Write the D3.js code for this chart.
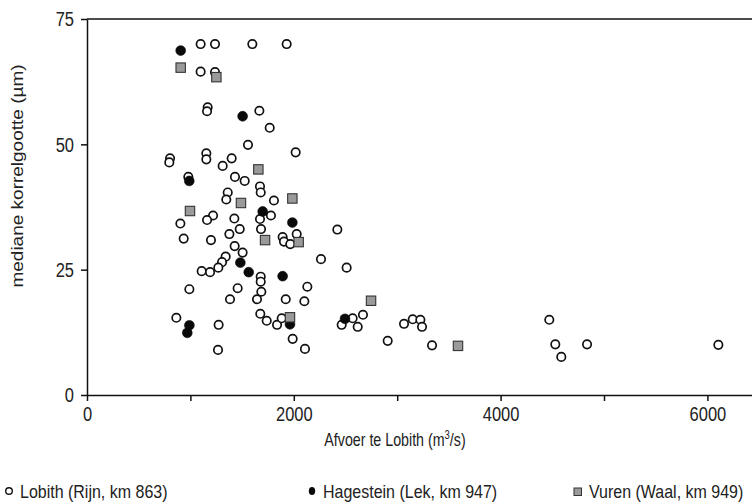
<!DOCTYPE html>
<html><head><meta charset="utf-8">
<script src="https://cdn.jsdelivr.net/npm/d3@7"></script>
<style>
html,body{margin:0;padding:0;background:#fff;}
svg{display:block;}
text{font-family:"Liberation Sans",Arial,sans-serif;fill:#222;}
</style></head>
<body><svg id="c" width="752" height="504"></svg>
<script>
// Lobith (Rijn, km 863): [afvoer m3/s, mediane korrelgrootte µm]
const lobith = [
[1099,70],[1238,70],[1599,70],[1931,70],
[1099,64.5],[1238,64.4],
[1167,57.4],[1161,56.6],
[1667,56.7],[1767,53.3],[1557,49.9],[2018,48.4],
[803,47.2],[796,46.4],[1154,48.2],[1154,47.0],[1399,47.2],[1312,45.7],
[980,43.5],[1431,43.5],[1525,42.7],[1673,41.6],[1680,40.4],[1361,40.4],[1347,39.0],[1808,38.8],
[1219,35.8],[1161,34.9],[903,34.2],[1425,35.2],[1477,33.1],[1377,32.1],[1779,35.8],[1673,35.1],[1683,33.1],
[1892,31.5],[2028,32.1],[1905,30.6],[1966,30.1],[2421,33.0],[935,31.2],[1199,30.9],[1428,29.7],[1505,28.4],
[1341,27.6],[1306,26.5],[1270,25.4],[1109,24.7],[1190,24.5],[1680,23.6],[1680,22.6],[2263,27.1],[2511,25.4],
[990,21.1],[1457,21.3],[1686,20.6],[1383,19.1],[1644,19.1],[1922,19.1],[2131,21.6],[2102,18.7],
[864,15.4],[1273,14.0],[1676,16.2],[1738,14.8],[1838,14.0],[1883,15.3],[1989,11.2],[2108,9.2],[1267,9.0],[2463,14.0],
[2569,15.3],[2618,13.6],[2669,16.0],[2908,10.8],[3066,14.2],[3150,15.1],[3224,15.0],[3240,13.6],[3337,9.9],
[4471,15.0],[4529,10.1],[4587,7.6],[4836,10.1],[6106,10.0]
];
// Hagestein (Lek, km 947)
const hagestein = [
[906,68.7],[1505,55.6],[989,42.7],[1699,36.6],[1986,34.4],[1483,26.4],[1564,24.5],
[1892,23.7],[990,13.9],[970,12.4],[1963,14.1],[2495,15.2]
];
// Vuren (Waal, km 949)
const vuren = [
[906,65.3],[1251,63.4],[1657,45.0],[1489,38.3],[1986,39.2],[996,36.7],[1722,30.9],
[2047,30.5],[1963,15.5],[2747,18.8],[3588,9.8]
];
const xTicks = [0,1000,2000,3000,4000,5000,6000];
const xLabels = [0,2000,4000,6000];
const yTicks = [0,25,50,75];
const seriesNames = ["Lobith (Rijn, km 863)","Hagestein (Lek, km 947)","Vuren (Waal, km 949)"];
const xTitle = "Afvoer te Lobith (m";
const yTitle = "mediane korrelgootte (µm)";

const svg = d3.select("#c");
const x = d3.scaleLinear().domain([0,6500]).range([87, 87+6500*0.1034]);
const y = d3.scaleLinear().domain([0,75]).range([395,19]);
const SY = 1.2; // vertical stretch of the lettering

// top frame line
svg.append("line").attr("x1",x(0)).attr("x2",752).attr("y1",y(75)).attr("y2",y(75))
  .attr("stroke","#111").attr("stroke-width",1.5);

const xAxis = svg.append("g").attr("transform",`translate(0,${y(0)})`)
  .call(d3.axisBottom(x).tickValues(xTicks).tickSize(6).tickSizeOuter(0)
    .tickFormat(d => xLabels.includes(d) ? d : ""));
const yAxis = svg.append("g").attr("transform",`translate(${x(0)},0)`)
  .call(d3.axisLeft(y).tickValues(yTicks).tickSize(6).tickSizeOuter(0));
[xAxis,yAxis].forEach(g=>{
  g.select(".domain").attr("stroke","#111").attr("stroke-width",1.5);
  g.selectAll(".tick line").attr("stroke","#111").attr("stroke-width",1.5);
  g.selectAll(".tick text").attr("font-size",16.5).attr("fill","#333")
   .attr("font-family","Liberation Sans, Arial, sans-serif");
});
xAxis.selectAll(".tick text").attr("y",19/SY).attr("dy","0.35em").attr("transform",`scale(1,${SY})`);
yAxis.selectAll(".tick text").attr("x",-13).attr("dy","0.35em").attr("transform",`scale(1,${SY})`);

// axis titles
const xt = svg.append("text").attr("transform",`translate(395,440) scale(0.95,${SY})`)
  .attr("dy","0.35em").attr("text-anchor","middle")
  .attr("font-size",15).attr("fill","#333");
xt.append("tspan").text(xTitle);
xt.append("tspan").attr("font-size",10).attr("dy",-6).text("3");
xt.append("tspan").attr("dy",6).text("/s)");
svg.append("text").attr("transform","translate(23,176) rotate(-90) scale(1,0.85)")
  .attr("text-anchor","middle").attr("font-size",19).attr("fill","#333").text(yTitle);

// marks
const pts = svg.append("g");
pts.selectAll("circle.lob").data(lobith).join("circle").attr("class","lob")
  .attr("cx",d=>x(d[0])).attr("cy",d=>y(d[1])).attr("r",4.2)
  .attr("fill","#fff").attr("stroke","#111").attr("stroke-width",1.7);
pts.selectAll("circle.hag").data(hagestein).join("circle").attr("class","hag")
  .attr("cx",d=>x(d[0])).attr("cy",d=>y(d[1])).attr("r",4.9)
  .attr("fill","#0a0a0a").attr("stroke","#0a0a0a").attr("stroke-width",0.6);
pts.selectAll("rect.vur").data(vuren).join("rect").attr("class","vur")
  .attr("x",d=>x(d[0])-4.7).attr("y",d=>y(d[1])-4.7).attr("width",9.4).attr("height",9.4)
  .attr("fill","#9a9a9a").attr("stroke","#333").attr("stroke-width",1.1);

// legend
const ly = 491;
const leg = svg.append("g");
const legText = (tx, s) => leg.append("text").attr("transform",`translate(${tx},${ly}) scale(1,${SY})`)
  .attr("dy","0.35em").attr("font-size",16).attr("fill","#333").text(s);
leg.append("circle").attr("cx",9).attr("cy",ly).attr("r",3.3)
  .attr("fill","#fff").attr("stroke","#111").attr("stroke-width",1.4);
legText(20, seriesNames[0]);
leg.append("ellipse").attr("cx",312).attr("cy",ly).attr("rx",3.2).attr("ry",4)
  .attr("fill","#0a0a0a");
legText(323, seriesNames[1]);
leg.append("rect").attr("x",574).attr("y",ly-3).attr("width",7.5).attr("height",7.5)
  .attr("fill","#9a9a9a").attr("stroke","#333").attr("stroke-width",1);
legText(589, seriesNames[2]);
</script></body></html>
